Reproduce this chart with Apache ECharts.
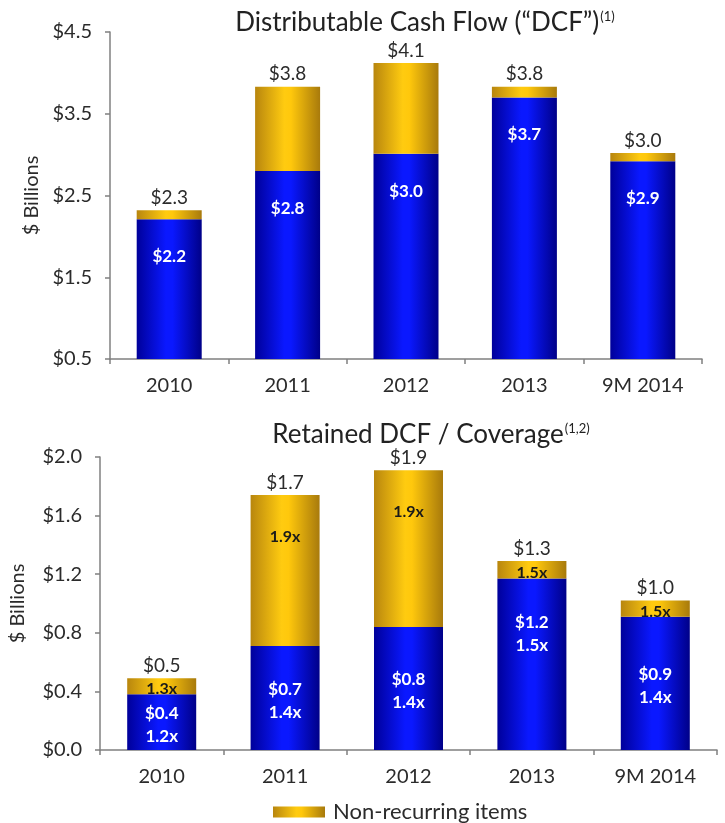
<!DOCTYPE html>
<html>
<head>
<meta charset="utf-8">
<script src="https://cdn.jsdelivr.net/npm/echarts@6/dist/echarts.min.js"></script>
<style>
  html, body { margin: 0; padding: 0; background: #ffffff; }
  #chart { width: 725px; height: 823px; }
</style>
</head>
<body>
<div id="chart"></div>
<script>
// Categories shared by both panels
const categories = ['2010', '2011', '2012', '2013', '9M 2014'];

// Distributable Cash Flow, $ billions
const dcfRecurring = [2.21, 2.80, 3.01, 3.70, 2.92];
const dcfTotal = [2.32, 3.83, 4.12, 3.83, 3.02];

// Retained DCF, $ billions, with coverage ratios
const retainedRecurring = [0.38, 0.71, 0.84, 1.17, 0.91];
const retainedTotal = [0.49, 1.74, 1.91, 1.29, 1.02];
const coverageRecurring = ['1.2x', '1.4x', '1.4x', '1.5x', '1.4x'];
const coverageTotal = ['1.3x', '1.9x', '1.9x', '1.5x', '1.5x'];

// Value-axis ticks
const dcfTicks = [0.5, 1.5, 2.5, 3.5, 4.5];
const retainedTicks = [0.0, 0.4, 0.8, 1.2, 1.6, 2.0];

const FONT = 'Lato';
const TEXT = '#2b2b2b';
const AXIS = '#808080';

const dcfNonRecurring = dcfTotal.map((t, i) => +(t - dcfRecurring[i]).toFixed(2));
const retainedNonRecurring = retainedTotal.map((t, i) => +(t - retainedRecurring[i]).toFixed(2));

function hGradient(stops) {
  return new echarts.graphic.LinearGradient(0, 0, 1, 0,
    stops.map(([o, c]) => ({ offset: o, color: c })));
}
const blueFill = hGradient([[0, '#00009a'], [0.45, '#0a18ff'], [0.55, '#0a18ff'], [1, '#000088']]);
const goldFill = hGradient([[0, '#b8860e'], [0.45, '#ffcb10'], [0.55, '#ffc80c'], [1, '#a87a0c']]);

const money = v => '$' + v.toFixed(1);

function catAxis(gridIndex) {
  return {
    type: 'category', gridIndex, data: categories,
    axisLine: { lineStyle: { color: AXIS, width: 1.5 } },
    axisTick: { show: true, length: 5, lineStyle: { color: AXIS, width: 1.5 } },
    axisLabel: { fontFamily: FONT, fontSize: 20, color: TEXT, margin: 17 }
  };
}
function valAxis(gridIndex, ticks, nameGap) {
  return {
    type: 'value', gridIndex,
    min: ticks[0], max: ticks[ticks.length - 1], interval: ticks[1] - ticks[0],
    name: '$ Billions', nameLocation: 'middle', nameGap,
    nameTextStyle: { fontFamily: FONT, fontSize: 20, color: TEXT },
    splitLine: { show: false },
    axisLine: { show: true, lineStyle: { color: AXIS, width: 1.5 } },
    axisTick: { show: true, length: 5, lineStyle: { color: AXIS, width: 1.5 } },
    axisLabel: { fontFamily: FONT, fontSize: 20, color: TEXT, margin: 18, formatter: money }
  };
}

// Invisible points at each bar total that carry the total label
function totalLabels(xi, yi, totals) {
  return {
    type: 'scatter', xAxisIndex: xi, yAxisIndex: yi,
    data: totals, symbolSize: 0.01, itemStyle: { color: '#ffffff', opacity: 1 },
    silent: true, z: 5,
    label: { show: true, position: 'top', distance: 3, fontFamily: FONT, fontSize: 19,
      color: TEXT, opacity: 1, formatter: p => money(p.value) }
  };
}

const titleRich = {
  m: { fontFamily: FONT, fontSize: 26, fontWeight: 'normal', color: '#222222' },
  s: { fontFamily: FONT, fontSize: 13, fontWeight: 'normal', color: '#222222', verticalAlign: 'top', padding: [0, 0, 11, 1] }
};

const chart = echarts.init(document.getElementById('chart'), null, { renderer: 'canvas' });

chart.setOption({
  animation: false,
  backgroundColor: '#ffffff',
  title: [
    {
      text: '{m|Distributable Cash Flow (\u201cDCF\u201d)}{s|(1)}',
      left: 420, textAlign: 'center', top: 5,
      textStyle: { fontWeight: 'normal', rich: titleRich }
    },
    {
      text: '{m|Retained DCF / Coverage}{s|(1,2)}',
      left: 426, textAlign: 'center', top: 417,
      textStyle: { fontWeight: 'normal', rich: titleRich }
    }
  ],
  legend: {
    data: ['Non-recurring items'],
    left: 268, top: 796,
    itemWidth: 52, itemHeight: 11, icon: 'rect',
    textStyle: { fontFamily: FONT, fontSize: 22, color: TEXT, padding: [0, 0, 0, 3] }
  },
  grid: [
    { left: 110, right: 23, top: 32, height: 327 },
    { left: 100, right: 8, top: 457, height: 293 }
  ],
  xAxis: [catAxis(0), catAxis(1)],
  yAxis: [valAxis(0, dcfTicks, 68), valAxis(1, retainedTicks, 72)],
  series: [
    {
      name: 'Recurring DCF', type: 'bar', stack: 'dcf', xAxisIndex: 0, yAxisIndex: 0,
      barWidth: 65, data: dcfRecurring, itemStyle: { color: blueFill },
      label: { show: true, position: 'insideTop', distance: 29, fontFamily: FONT, fontSize: 17,
        fontWeight: 'bold', color: '#ffffff', formatter: p => money(p.value) }
    },
    {
      name: 'Non-recurring items', type: 'bar', stack: 'dcf', xAxisIndex: 0, yAxisIndex: 0,
      barWidth: 65, data: dcfNonRecurring, itemStyle: { color: goldFill }
    },
    totalLabels(0, 0, dcfTotal),
    {
      name: 'Recurring retained DCF', type: 'bar', stack: 'ret', xAxisIndex: 1, yAxisIndex: 1,
      barWidth: 69,
      data: retainedRecurring.map((v, i) => i === 3 ? { value: v, label: { offset: [0, -30] } } : v),
      itemStyle: { color: blueFill },
      label: { show: true, position: 'inside', offset: [0, 3], fontFamily: FONT, fontSize: 17,
        lineHeight: 23, fontWeight: 'bold', color: '#ffffff',
        formatter: p => money(p.value) + '\n' + coverageRecurring[p.dataIndex] }
    },
    {
      name: 'Non-recurring items', type: 'bar', stack: 'ret', xAxisIndex: 1, yAxisIndex: 1,
      barWidth: 69,
      data: retainedNonRecurring.map(v => v > 0.5
        ? { value: v, label: { position: 'insideTop', distance: 34 } }
        : { value: v, label: { position: 'inside', offset: [0, 3] } }),
      itemStyle: { color: goldFill },
      label: { show: true, fontFamily: FONT, fontSize: 16, fontWeight: 'bold', color: '#1a1a1a',
        formatter: p => coverageTotal[p.dataIndex] }
    },
    totalLabels(1, 1, retainedTotal)
  ]
});
</script>
</body>
</html>
